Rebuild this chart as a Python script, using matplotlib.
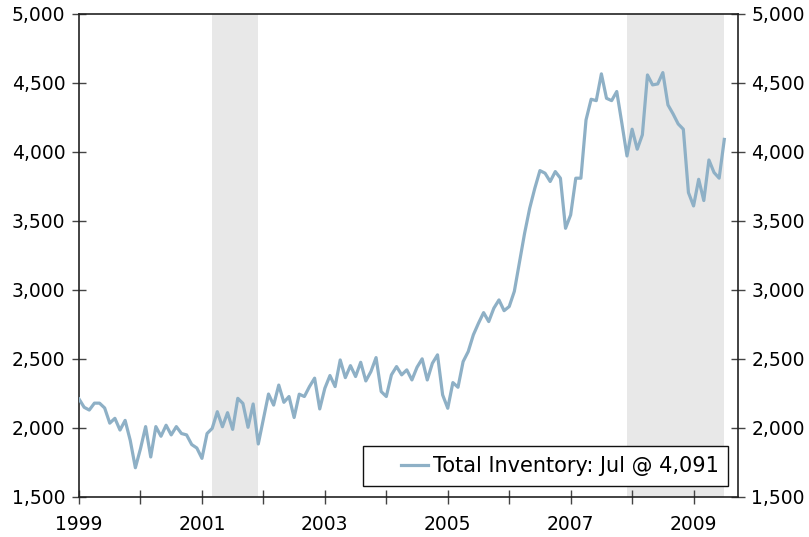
import matplotlib
matplotlib.use('Agg')
import numpy as np
import matplotlib.pyplot as plt
from matplotlib.patches import Rectangle
from matplotlib.ticker import FuncFormatter, MultipleLocator

# monthly inventory, Jan 1999 .. Jul 2009
inv1999 = [2210, 2150, 2130, 2180, 2180, 2145, 2035, 2070, 1985, 2055, 1910, 1712]
inv2000 = [1850, 2010, 1790, 2010, 1940, 2020, 1950, 2010, 1960, 1950, 1880, 1855]
inv2001 = [1780, 1960, 1997, 2118, 2009, 2111, 1990, 2215, 2178, 2005, 2174, 1884]
inv2002 = [2065, 2246, 2166, 2311, 2186, 2228, 2076, 2245, 2228, 2300, 2361, 2138]
inv2003 = [2288, 2380, 2300, 2493, 2365, 2452, 2373, 2476, 2341, 2409, 2510, 2264]
inv2004 = [2228, 2385, 2445, 2385, 2421, 2348, 2440, 2501, 2348, 2469, 2530, 2240]
inv2005 = [2143, 2329, 2295, 2481, 2554, 2675, 2759, 2836, 2771, 2868, 2928, 2850]
inv2006 = [2880, 2990, 3200, 3410, 3592, 3737, 3865, 3846, 3786, 3858, 3810, 3447]
inv2007 = [3544, 3810, 3810, 4232, 4382, 4372, 4566, 4389, 4372, 4438, 4208, 3971]
inv2008 = [4165, 4020, 4124, 4558, 4486, 4493, 4575, 4341, 4276, 4203, 4165, 3706]
inv2009 = [3609, 3802, 3648, 3942, 3851, 3810, 4091]

inventory = (inv1999 + inv2000 + inv2001 + inv2002 + inv2003 + inv2004 +
             inv2005 + inv2006 + inv2007 + inv2008 + inv2009)
t = 1999 + np.arange(len(inventory)) / 12.0

# recessions (start, end) in decimal years
recessions = [(2001 + 2/12., 2001 + 11/12.), (2007 + 11/12., 2009 + 6/12.)]

label = 'Total Inventory: Jul @ 4,091'
yticks = np.arange(1500, 5001, 500)
xlabels = [1999, 2001, 2003, 2005, 2007, 2009]

plt.rcParams['font.family'] = 'DejaVu Sans'
fig = plt.figure(figsize=(8.09, 5.37), dpi=100)
ax = fig.add_axes([0.0977, 0.0745, 0.8143, 0.8995])

for r in recessions:
    ax.axvspan(r[0], r[1], color='#e8e8e8', lw=0, zorder=0)

ax.plot(t, inventory, color='#8eb0c6', linewidth=2.3, label=label, zorder=3)

ax.set_xlim(1999, 2009.72)
ax.set_ylim(1500, 5000)
ax.set_yticks(yticks)
ax.yaxis.set_major_formatter(FuncFormatter(lambda v, p: '{:,.0f}'.format(v)))
ax.set_xticks(xlabels)
ax.set_xticklabels([str(x) for x in xlabels])
ax.xaxis.set_minor_locator(MultipleLocator(1))

ax.tick_params(axis='both', which='both', direction='inout', length=9.5,
               width=1, color='#444444', labelsize=13.5)
ax.tick_params(axis='x', which='major', pad=8)
ax.tick_params(axis='y', which='both', pad=5, right=True, labelright=True)

for s in ax.spines.values():
    s.set_color('#222222')
    s.set_linewidth(1.2)

# legend: own box, entry pushed to the right side of it
box = Rectangle((0.431, 0.023), 0.554, 0.083, transform=ax.transAxes,
                facecolor='white', edgecolor='#111111', linewidth=1.0, zorder=4)
ax.add_patch(box)
leg = ax.legend(loc='center right', bbox_to_anchor=(0.972, 0.064), fontsize=15,
                frameon=False, borderpad=0, handlelength=1.3,
                handletextpad=0.25, borderaxespad=0)
leg.set_zorder(5)

fig.savefig('out.png', dpi=100)
plt.close(fig)
